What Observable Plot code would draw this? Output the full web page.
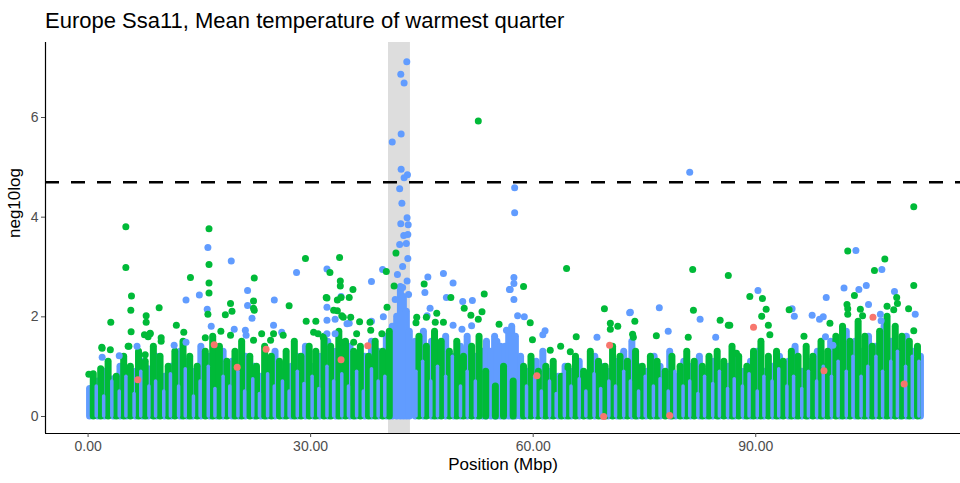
<!DOCTYPE html>
<html>
<head>
<meta charset="utf-8">
<script src="https://cdn.jsdelivr.net/npm/d3@7"></script>
<script src="https://cdn.jsdelivr.net/npm/@observablehq/plot@0.6"></script>
<style>
  body { margin: 0; background: #fff; font-family: "Liberation Sans", Arial, sans-serif; }
  #wrap { position: relative; width: 960px; height: 483px; }
  #title { position: absolute; left: 45px; top: 8px; font-size: 22px; color: #000; white-space: nowrap; }
  #wrap svg { position: absolute; left: 0; top: 0; }
</style>
</head>
<body>
<div id="wrap"><div id="title">Europe Ssa11, Mean temperature of warmest quarter</div></div>
<script>
// Axes
const xDomain = [-5.74, 117.6];
const yDomain = [-0.341, 7.505];
const xTicks = [0, 30, 60, 90];
const xTickLabels = ["0.00", "30.00", "60.00", "90.00"];
const yTicks = [0, 2, 4, 6];
const threshold = 4.7;
const peakRegion = [40.5, 43.45];

// Colours of the three SNP groups
const colRed = "#F8766D", colGreen = "#00BA38", colBlue = "#619CFF";

// Dense low-significance SNPs, summarised per position as [Mbp, highest neg10log in the stack]
const blueStacks = [
  [0.2,0.55],[1.3,0.7],[2.2,0.9],[3.4,0.75],[4.3,1.0],[5.2,0.85],[6.4,0.9],[7.3,1.1],[8.1,0.95],[9.2,1.2],
  [10.3,0.8],[11.2,1.0],[12.4,1.3],[13.3,1.1],[14.1,0.9],[15.2,1.4],[16.4,1.2],[17.3,1.0],[18.2,1.3],[19.4,1.1],
  [20.3,0.9],[21.2,1.2],[22.4,1.0],[23.3,0.8],[24.1,1.1],[25.2,1.3],[26.3,0.9],[27.4,1.0],[28.2,1.2],[29.3,1.4],
  [30.4,1.0],[31.2,1.2],[32.3,1.5],[33.4,1.3],[34.2,1.1],[35.3,1.4],[36.1,1.0],[37.3,1.2],[38.2,1.5],[39.1,1.3],
  [40.2,1.6],[41.0,1.8],[41.6,2.0],[42.1,2.6],[42.5,2.4],[42.9,2.1],[43.3,1.7],[44.1,1.5],[45.2,1.7],[46.3,1.5],
  [47.1,1.3],[48.2,1.6],[49.3,1.2],[50.2,1.4],[51.1,1.6],[52.3,1.2],[53.2,1.3],[53.7,1.5],[54.3,1.3],[54.8,1.6],
  [55.1,1.5],[55.6,1.4],[56.2,1.4],[56.7,1.7],[57.1,1.8],[57.6,1.6],[58.3,1.2],[59.2,0.9],[60.4,1.1],[61.3,1.3],
  [62.2,0.9],[63.4,0.8],[64.3,1.0],[65.1,0.9],[66.2,1.1],[67.4,0.8],[68.3,1.2],[69.2,1.0],[70.1,0.9],[71.3,1.1],
  [72.2,1.3],[73.3,1.5],[74.1,1.0],[75.2,0.9],[76.3,1.2],[77.1,1.0],[78.4,1.3],[79.2,0.8],[80.3,1.1],[81.2,1.0],
  [82.4,1.2],[83.3,0.9],[84.2,1.1],[85.1,0.8],[86.3,1.0],[87.2,1.2],[88.4,0.9],[89.3,1.1],[90.2,1.3],[91.1,0.9],
  [92.3,1.0],[93.2,1.2],[94.4,1.1],[95.3,1.4],[96.2,0.9],[97.1,1.1],[98.3,1.3],[99.2,1.0],[100.1,1.5],[101.3,1.3],
  [102.2,1.7],[103.4,1.5],[104.3,1.3],[105.2,1.6],[106.1,1.4],[107.3,1.8],[108.2,1.5],[109.4,1.3],[110.3,1.6],[111.2,1.3],
  [112.2,1.2]
];
const greenStacks = [
  [0.7,0.85],[1.7,0.95],[2.7,1.1],[3.8,0.8],[4.8,1.2],[5.7,1.0],[6.8,1.3],[7.7,1.1],[8.8,1.4],[9.7,1.2],
  [10.8,1.0],[11.7,1.3],[12.8,1.5],[13.7,1.2],[14.7,1.0],[15.8,1.3],[16.8,1.6],[17.7,1.4],[18.7,1.1],[19.8,1.3],
  [20.7,1.5],[21.8,1.2],[22.7,1.0],[23.8,1.4],[24.7,1.2],[25.8,1.1],[26.7,1.3],[27.8,1.5],[28.7,1.2],[29.8,1.4],
  [30.7,1.3],[31.8,1.6],[32.7,1.4],[33.8,1.7],[34.7,1.5],[35.8,1.3],[36.7,1.4],[37.8,1.2],[38.7,1.5],[39.7,1.3],
  [40.6,1.7],[44.6,1.6],[45.6,1.4],[46.7,1.7],[47.6,1.5],[48.7,1.3],[49.7,1.5],[50.6,1.2],[51.7,1.4],[52.7,1.6],
  [53.6,0.9],[54.9,0.6],[56.0,1.0],[57.3,0.7],
  [58.7,1.0],[59.7,1.2],[60.7,0.9],[61.7,1.0],[62.7,1.1],[63.8,0.8],[64.7,1.0],[65.7,1.2],[66.8,0.9],[67.7,1.3],
  [68.8,1.1],[69.7,1.0],[70.7,1.4],[71.7,1.2],[72.7,1.1],[73.8,1.3],[74.7,1.0],[75.8,1.2],[76.7,1.1],[77.8,0.9],
  [78.7,1.2],[79.8,1.0],[80.7,1.3],[81.7,1.1],[82.8,1.0],[83.7,1.2],[84.8,1.3],[85.7,1.1],[86.8,1.4],[87.7,1.2],
  [88.8,1.0],[89.7,1.3],[90.7,1.5],[91.7,1.2],[92.8,1.3],[93.7,1.1],[94.8,1.3],[95.7,1.2],[96.8,1.4],[97.7,1.2],
  [98.8,1.5],[99.7,1.3],[100.8,1.6],[101.7,1.8],[102.7,1.5],[103.8,1.9],[104.7,1.6],[105.7,1.4],[106.7,1.7],[107.7,2.0],
  [108.8,1.8],[109.7,1.6],[110.7,1.5],[111.8,1.4]
];
// Shorter blue stacks lying over the green ones, seen as thin slivers
const blueStacksFront = [
  [1.1,0.6],[2.1,0.4],[3.2,0.7],[4.2,0.5],[5.1,0.8],[6.2,0.45],[7.1,0.9],[8.2,0.6],[9.1,0.7],[10.2,0.5],
  [11.1,0.85],[12.2,0.6],[13.1,0.95],[14.2,0.4],[15.1,0.7],[16.2,1.0],[17.1,0.55],[18.2,0.8],[19.1,0.6],[20.2,0.9],
  [21.1,0.5],[22.2,0.75],[23.1,0.45],[24.2,0.85],[25.1,0.6],[26.2,0.7],[27.1,0.5],[28.2,0.9],[29.1,0.65],[30.2,0.8],
  [31.1,0.55],[32.2,1.0],[33.1,0.7],[34.2,0.85],[35.1,0.6],[36.2,0.9],[37.1,0.5],[38.2,0.95],[39.1,0.7],[40.0,0.8],
  [44.2,0.9],[45.1,1.1],[46.2,0.7],[47.1,1.0],[48.2,0.8],[49.1,1.2],[50.2,0.6],[51.1,0.9],[52.2,0.7],
  [59.1,0.6],[60.2,0.8],[61.1,0.5],[62.2,0.7],[63.1,0.45],[64.2,0.9],[65.1,0.6],[66.2,0.75],[67.1,0.5],[68.2,0.85],
  [69.1,0.55],[70.2,0.7],[71.1,0.6],[72.2,0.9],[73.1,0.7],[74.2,0.5],[75.1,0.8],[76.2,0.6],[77.1,0.75],[78.2,0.5],
  [79.1,0.9],[80.2,0.6],[81.1,0.7],[82.2,0.45],[83.1,0.8],[84.2,0.65],[85.1,0.9],[86.2,0.55],[87.1,0.75],[88.2,0.6],
  [89.1,0.85],[90.2,0.5],[91.1,0.8],[92.2,0.7],[93.1,0.95],[94.2,0.6],[95.1,0.8],[96.2,0.55],[97.1,0.9],[98.2,0.7],
  [99.1,1.0],[100.2,0.8],[101.1,1.1],[102.2,0.9],[103.1,1.2],[104.2,0.8],[105.1,1.0],[106.2,1.2],[107.1,0.9],[108.2,1.1],
  [109.1,1.3],[110.2,1.0],[111.1,1.2],[112.0,1.1]
];

// Individual SNPs standing out above the stacks: [Mbp, neg10log]
const greenSnps = [
  [5.09,3.81],[5.09,2.99],[16.3,3.77],[16.3,3.05],[13.8,2.79],[22.4,2.78],[16.3,2.68],[16.3,2.48],[5.85,2.42],[9.58,2.18],
  [5.76,2.13],[3.06,1.89],[7.83,2.02],[7.83,1.89],[5.8,1.70],[16.15,2.05],[19.2,2.27],[19.4,2.11],[18.5,2.04],[22.3,2.32],
  [22.3,2.17],[27.1,2.22],[11.9,1.83],[12.9,1.69],[17.9,1.71],[9.85,1.58],[8.37,1.67],[1.89,1.37],[3.0,1.34],[0.1,0.85],
  [5.4,1.41],[7.6,1.64],[8.1,1.6],[15.8,1.58],[22.4,2.13],[29.3,3.17],[32.6,2.89],[33.9,3.19],[34.0,2.72],[34.0,2.62],
  [32.1,2.39],[29.4,1.91],[30.7,1.91],[33.6,2.34],[35.7,2.55],[40.2,2.91],[41.5,3.28],[41.25,2.62],[45.3,2.66],[48.9,2.39],
  [53.4,2.46],[50.7,2.17],[51.6,2.03],[53.1,2.1],[47.0,2.07],[32.2,2.38],[34.1,2.39],[35.2,2.39],[33.6,2.12],[34.2,2.02],
  [35.4,1.99],[36.6,1.9],[40.3,2.19],[44.3,1.99],[44.2,1.88],[45.6,1.99],[46.8,1.89],[47.9,1.89],[52.6,1.95],[55.4,1.85],
  [26.3,1.63],[52.6,5.93],[58.7,2.61],[64.5,2.97],[81.5,2.95],[86.3,2.83],[69.6,2.16],[81.6,2.13],[85.2,1.93],[73.7,1.91],
  [70.4,1.87],[71.4,1.81],[70.4,1.75],[59.6,1.88],[65.8,1.6],[73.5,1.59],[73.4,1.65],[76.6,1.62],[80.9,1.59],[86.3,1.83],
  [59.9,1.54],[62.3,1.33],[63.7,1.41],[65.0,1.3],[111.3,4.21],[102.4,3.32],[107.4,3.16],[106.0,2.93],[111.3,2.63],[89.2,2.41],
  [90.9,2.37],[91.4,2.15],[90.8,2.01],[94.5,2.14],[103.3,2.43],[102.3,2.25],[102.4,2.16],[102.4,2.05],[104.1,2.15],[104.4,2.02],
  [107.7,2.21],[109.0,2.39],[109.1,2.27],[108.6,2.14],[110.6,2.16],[111.3,1.72],[86.5,1.83],[100.0,1.87],[96.5,1.61],[87.4,1.27],
  [91.7,1.83],[91.9,1.64],
  [8.37,1.66],[9.85,1.51],[7.7,1.24],[5.5,1.41],[1.85,1.39],[19.2,1.63],[23.4,1.66],[22.3,1.53],[25.0,1.66],[24.6,1.53],
  [33.1,2.13],[34.4,1.99],[38.0,1.89],[38.1,1.73],[39.6,1.66],[30.4,1.69],[31.0,1.66],[31.7,1.59],[36.2,1.66],[34.4,1.49],
  [35.8,1.49]
];
const blueSnps = [
  [16.15,3.39],[19.3,3.12],[15.0,2.44],[13.2,2.34],[21.5,2.53],[16.06,2.15],[22.1,1.97],[21.5,2.23],[25.1,2.34],[16.6,1.81],
  [19.7,1.75],[1.9,1.19],[4.2,1.22],[13.2,1.49],[11.6,1.43],[28.1,2.89],[32.2,2.96],[32.2,2.19],[34.1,2.41],[33.3,1.95],
  [38.2,2.71],[39.7,2.95],[45.8,2.8],[47.9,2.87],[49.2,2.68],[45.4,2.49],[48.3,2.39],[50.5,2.31],[51.8,2.33],[56.8,2.55],
  [46.1,2.17],[45.7,2.02],[35.2,1.87],[38.2,1.91],[39.8,2.0],[49.2,1.83],[50.4,1.75],[51.7,1.82],[56.4,1.73],
  [42.96,7.12],[42.15,6.87],[42.6,6.69],[42.2,5.67],[41.0,5.51],[42.2,4.96],[43.05,4.85],[42.6,4.79],[42.0,4.57],[42.3,4.28],
  [43.0,3.99],[42.15,3.87],[43.15,3.85],[42.55,3.63],[43.1,3.65],[42.0,3.45],[42.9,3.47],[43.1,3.17],[42.4,3.01],[41.7,2.85],
  [43.0,2.72],[42.4,2.59],[41.4,2.35],[43.2,2.45],
  [57.5,4.59],[57.5,4.09],[81.1,4.9],[57.4,2.79],[56.9,2.55],[57.4,2.67],[57.4,2.35],[73.0,2.08],[77.0,2.18],[82.5,1.95],
  [57.9,2.02],[58.8,2.0],[61.6,1.72],[61.3,1.64],[68.6,1.59],[78.2,1.71],[84.6,1.59],[103.5,3.33],[107.0,2.95],[90.3,2.53],
  [94.9,2.16],[95.2,2.01],[99.5,2.39],[101.9,2.58],[103.9,2.55],[104.9,2.63],[105.2,2.25],[106.8,2.05],[106.9,1.92],[108.7,2.51],
  [111.5,2.05],[97.6,2.03],[98.6,1.95],[99.1,2.0],[99.4,1.6],[100.4,1.43],[73.1,2.09],
  [6.6,1.41],[21.2,1.73],[21.3,1.63],[25.0,1.83],[26.1,1.69],[32.2,1.93],[32.2,1.66],[33.3,1.66],[34.9,1.86]
];
const redSnps = [
  [17.0,1.44],[24.0,1.35],[20.1,0.99],[37.7,1.42],[34.1,1.14],[60.5,0.82],[70.3,1.43],[69.5,0.0],[78.4,0.02],
  [105.8,1.99],[89.7,1.79],[110.0,0.65],[99.2,0.92],[6.7,0.74]
];

const px = d => d[0], py = d => d[1];
const stack = (data, fill, width = 7) => Plot.ruleX(data, {
  x: px, y1: () => 0, y2: py, stroke: fill, strokeWidth: width, strokeLinecap: "round"
});
const snps = (data, fill) => Plot.dot(data, {x: px, y: py, r: 3.5, fill, stroke: "none"});

const chart = Plot.plot({
  width: 960,
  height: 483,
  marginTop: 42,
  marginBottom: 50,
  marginLeft: 45,
  marginRight: 0,
  style: {fontFamily: "'Liberation Sans', Arial, sans-serif", background: "transparent"},
  x: {domain: xDomain},
  y: {domain: yDomain},
  marks: [
    Plot.rect([peakRegion], {x1: d => d[0], x2: d => d[1], y1: () => yDomain[0], y2: () => yDomain[1], fill: "#dddddd"}),
    stack(blueStacks, colBlue),
    stack(greenStacks, colGreen),
    stack(blueStacksFront, colBlue, 3.5),
    snps(blueSnps, colBlue),
    snps(greenSnps, colGreen),
    snps(redSnps, colRed),
    Plot.ruleY([threshold], {stroke: "#000", strokeWidth: 2.5, strokeDasharray: "14,12"}),
    Plot.ruleX([xDomain[0]], {stroke: "#000", strokeWidth: 1.2}),
    Plot.ruleY([yDomain[0]], {stroke: "#000", strokeWidth: 1.2}),
    Plot.axisX({ticks: xTicks, tickFormat: d => xTickLabels[xTicks.indexOf(d)], tickSize: 4, tickPadding: 4,
      fontSize: 14, color: "#4d4d4d", label: null}),
    Plot.axisY({ticks: yTicks, tickSize: 4, tickPadding: 3, fontSize: 14, color: "#4d4d4d", label: null}),
    Plot.text(["Position (Mbp)"], {text: d => d, frameAnchor: "bottom", dy: 36, fontSize: 17, fill: "#000"}),
    Plot.text(["neg10log"], {text: d => d, frameAnchor: "left", dx: -31, rotate: -90, fontSize: 17, fill: "#000"})
  ]
});
document.getElementById("wrap").appendChild(chart);
</script>
</body>
</html>
